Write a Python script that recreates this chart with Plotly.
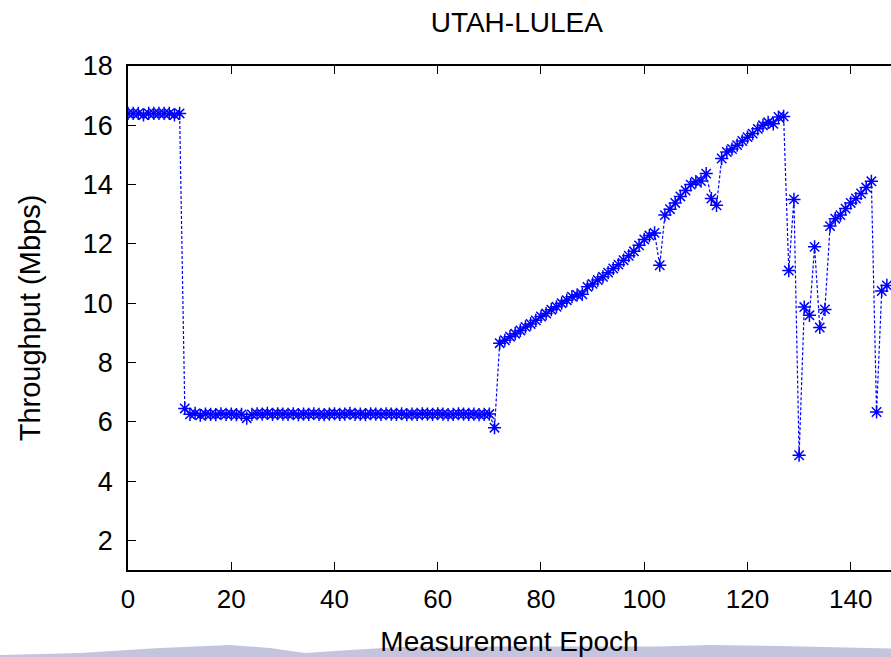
import plotly.graph_objects as go

title_text = "UTAH-LULEA"
x_title = "Measurement Epoch"
y_title = "Throughput (Mbps)"

seg_high = [16.4, 16.4, 16.4, 16.35, 16.4, 16.4, 16.4, 16.4, 16.4, 16.35, 16.4]  # epochs 0-10
seg_low = [6.45, 6.25, 6.28, 6.22, 6.26, 6.25, 6.24, 6.27, 6.25, 6.26, 6.24, 6.25,  # 11-22
           6.12,  # 23
           6.25, 6.27, 6.26, 6.28, 6.25, 6.27, 6.26, 6.25, 6.27, 6.24, 6.26, 6.25,  # 24-35
           6.27, 6.25, 6.24, 6.26, 6.27, 6.25, 6.26, 6.28, 6.25, 6.26, 6.24, 6.27,  # 36-47
           6.26, 6.25, 6.27, 6.26, 6.25, 6.27, 6.24, 6.26, 6.25, 6.27, 6.26, 6.25,  # 48-59
           6.27, 6.26, 6.24, 6.25, 6.27, 6.26, 6.25, 6.26, 6.24, 6.25, 6.26,  # 60-70
           5.8]  # 71
seg_rise = [8.65, 8.75, 8.87, 8.97, 9.08, 9.2, 9.3, 9.42, 9.55, 9.65, 9.78, 9.88,  # 72-83
            10.0, 10.1, 10.22, 10.28, 10.3, 10.55, 10.65, 10.78, 10.89, 11.03, 11.17,  # 84-94
            11.3, 11.45, 11.6, 11.75, 11.95, 12.15, 12.28, 12.37,  # 95-102
            11.28,  # 103
            12.97, 13.17, 13.38, 13.6, 13.8, 14.0, 14.1, 14.12, 14.37,  # 104-112
            13.53, 13.3,  # 113-114
            14.88, 15.1, 15.2, 15.33, 15.47, 15.6, 15.72, 15.88, 16.0, 16.1, 16.05,
            16.28, 16.3]  # 115-127
seg_tail = [11.1, 13.5, 4.87, 9.87, 9.59, 11.9, 9.18, 9.79,  # 128-135
            12.6, 12.85, 12.97, 13.19, 13.38, 13.53, 13.7, 13.9, 14.11,  # 136-144
            6.33, 10.41, 10.6]  # 145-147

throughput = seg_high + seg_low + seg_rise + seg_tail
epochs = list(range(len(throughput)))

x_ticks = [0, 20, 40, 60, 80, 100, 120, 140]
y_ticks = [2, 4, 6, 8, 10, 12, 14, 16, 18]

FONT = "Liberation Sans, Arial, sans-serif"

fig = go.Figure()

# decorative wave band at the bottom of the slide (pixel -> paper coords)
L, T, W, H = 128, 66, 763, 504
def px(X, Y):
    return (X - L) / W, (T + H - Y) / H
pts = [(0, 655), (80, 653), (160, 648), (230, 645), (270, 648), (305, 653),
       (350, 650), (400, 647), (500, 646.5), (600, 646.5), (660, 646.5),
       (710, 645), (780, 646), (891, 648.5)]
path = ""
for i, (X, Y) in enumerate(pts):
    a, b = px(X, Y)
    path += ("M" if i == 0 else "L") + f"{a:.4f},{b:.4f} "
a, b = px(891, 658)
path += f"L{a:.4f},{b:.4f} "
a, b = px(0, 658)
path += f"L{a:.4f},{b:.4f} Z"
fig.add_shape(type="path", path=path, xref="paper", yref="paper",
              fillcolor="#c4c4de", line=dict(width=0), layer="below")

fig.add_trace(go.Scatter(
    x=epochs, y=throughput, mode="lines+markers",
    line=dict(color="#0000ff", width=1.2, dash="3px,2px"),
    marker=dict(symbol="asterisk-open", size=11, color="#0000ff",
                line=dict(color="#0000ff", width=1.5)),
    showlegend=False,
))

fig.update_layout(
    width=891, height=657,
    margin=dict(l=L, r=0, t=T, b=657 - T - H),
    paper_bgcolor="white", plot_bgcolor="white",
    font=dict(family=FONT, color="black", size=24),
    title=dict(text=title_text, x=0.58, xref="container", xanchor="center",
               y=1 - 22 / 657, yref="container", yanchor="middle",
               font=dict(size=28, family=FONT)),
    xaxis=dict(range=[0, 147.8], tickvals=x_ticks, ticks="inside", ticklen=8,
               tickcolor="black", showline=True, linecolor="black", linewidth=1.5,
               mirror="ticks", showgrid=False, zeroline=False,
               tickfont=dict(size=26), ticklabelstandoff=5,
               title=dict(text=x_title, font=dict(size=28), standoff=19)),
    yaxis=dict(range=[1, 18], tickvals=y_ticks, ticks="inside", ticklen=8,
               tickcolor="black", showline=True, linecolor="black", linewidth=1.5,
               mirror=False, showgrid=False, zeroline=False,
               tickfont=dict(size=27), ticklabelstandoff=8,
               title=dict(text=y_title, font=dict(size=29), standoff=34)),
)

fig.write_html("out.html")
